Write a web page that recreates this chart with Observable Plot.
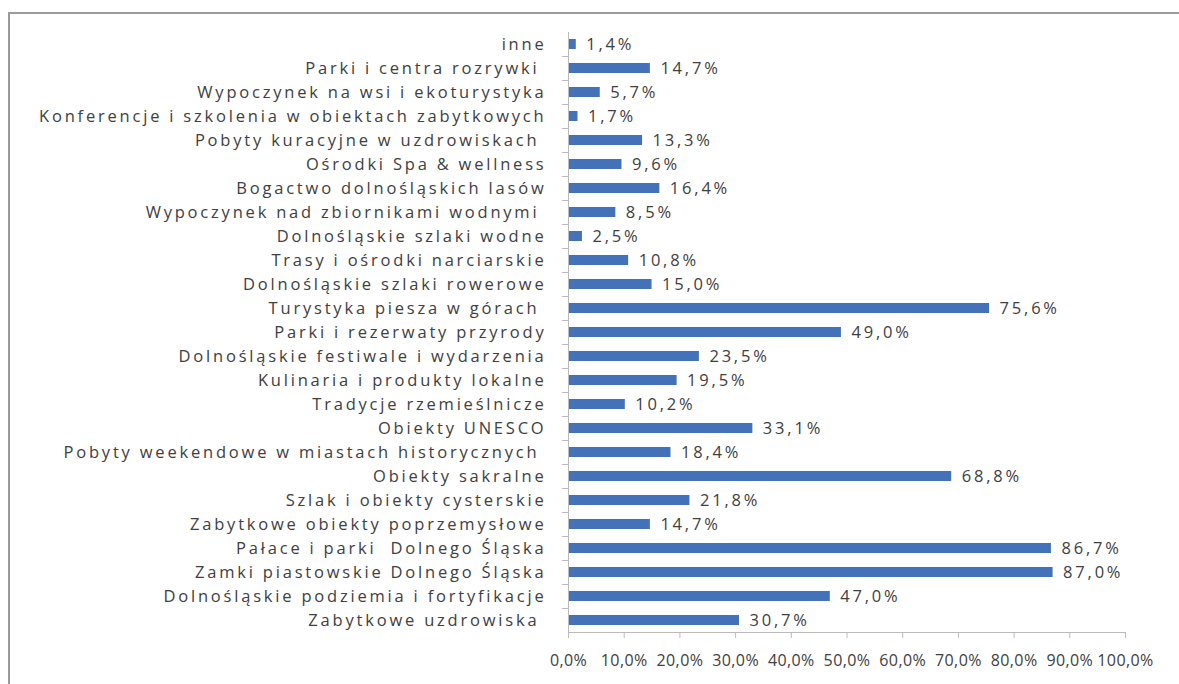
<!DOCTYPE html>
<html>
<head>
<meta charset="utf-8">
<script src="https://cdn.jsdelivr.net/npm/d3@7"></script>
<script src="https://cdn.jsdelivr.net/npm/@observablehq/plot@0.6"></script>
<style>
  html, body { margin: 0; padding: 0; background: #fff; overflow: hidden; }
  #wrap { position: relative; width: 1179px; height: 684px; }
  #frame { position: absolute; left: 8px; top: 12px; width: 1200px; height: 700px;
           border-left: 2px solid #9a9a9a; border-top: 2px solid #9a9a9a; box-sizing: border-box; }
  #chart { position: absolute; left: 0; top: 0; }
  #chart svg { font-family: "Open Sans", sans-serif; letter-spacing: 2.8px; }
  #chart svg g.xax text { letter-spacing: 0.4px; font-size: 16px; }
</style>
</head>
<body>
<div id="wrap"><div id="frame"></div><div id="chart"></div></div>
<script>
const categories = [
  "inne",
  "Parki i centra rozrywki ",
  "Wypoczynek na wsi i ekoturystyka",
  "Konferencje i szkolenia w obiektach zabytkowych",
  "Pobyty kuracyjne w uzdrowiskach ",
  "Ośrodki Spa & wellness",
  "Bogactwo dolnośląskich lasów",
  "Wypoczynek nad zbiornikami wodnymi ",
  "Dolnośląskie szlaki wodne",
  "Trasy i ośrodki narciarskie",
  "Dolnośląskie szlaki rowerowe",
  "Turystyka piesza w górach ",
  "Parki i rezerwaty przyrody",
  "Dolnośląskie festiwale i wydarzenia",
  "Kulinaria i produkty lokalne",
  "Tradycje rzemieślnicze",
  "Obiekty UNESCO",
  "Pobyty weekendowe w miastach historycznych ",
  "Obiekty sakralne",
  "Szlak i obiekty cysterskie",
  "Zabytkowe obiekty poprzemysłowe",
  "Pałace i parki  Dolnego Śląska",
  "Zamki piastowskie Dolnego Śląska",
  "Dolnośląskie podziemia i fortyfikacje",
  "Zabytkowe uzdrowiska "
];
const values = [1.4, 14.7, 5.7, 1.7, 13.3, 9.6, 16.4, 8.5, 2.5, 10.8, 15.0, 75.6, 49.0, 23.5, 19.5, 10.2, 33.1, 18.4, 68.8, 21.8, 14.7, 86.7, 87.0, 47.0, 30.7];
const xTicks = [0, 10, 20, 30, 40, 50, 60, 70, 80, 90, 100];

const data = categories.map((c, i) => ({ cat: c, value: values[i] }));
const pct = v => v.toFixed(1).replace(".", ",") + "%";
const nb = s => s.replace(/ $/, "\u00a0").replace(/  /g, " \u00a0");

const chart = Plot.plot({
  width: 1179,
  height: 684,
  marginLeft: 568,
  marginRight: 54,
  marginTop: 32,
  marginBottom: 52,
  style: { fontSize: "16.5px", color: "#404040", background: "transparent" },
  x: { domain: [0, 100], ticks: xTicks, tickFormat: pct, label: null },
  y: { domain: categories, paddingInner: 0.58, paddingOuter: 0.29, label: null },
  marks: [
    Plot.barX(data, { x: "value", y: "cat", fill: "#4472b8" }),
    Plot.text(data, { x: "value", y: "cat", text: d => pct(d.value), textAnchor: "start", dx: 10, fill: "#404040" }),
    Plot.axisY({ tickSize: 0, tickPadding: 22, tickFormat: nb, fill: "#404040" }),
    Plot.ruleY(categories.slice(1), { y: d => d, dy: -12, x1: -1.1, x2: 0, stroke: "#bbb" }),
    Plot.ruleX([0], { stroke: "#bbb" }),
    Plot.ruleY([categories[categories.length - 1]], { y: d => d, dy: 12, stroke: "#bbb" }),
    Plot.axisX({ ticks: xTicks, tickFormat: pct, tickSize: 6, tickPadding: 16, stroke: "#bbb", fill: "#404040", className: "xax" })
  ]
});
// tag the x-axis tick label group for styling
chart.querySelectorAll("g[aria-label='x-axis tick label']").forEach(g => g.classList.add("xax"));
document.getElementById("chart").appendChild(chart);
</script>
</body>
</html>
